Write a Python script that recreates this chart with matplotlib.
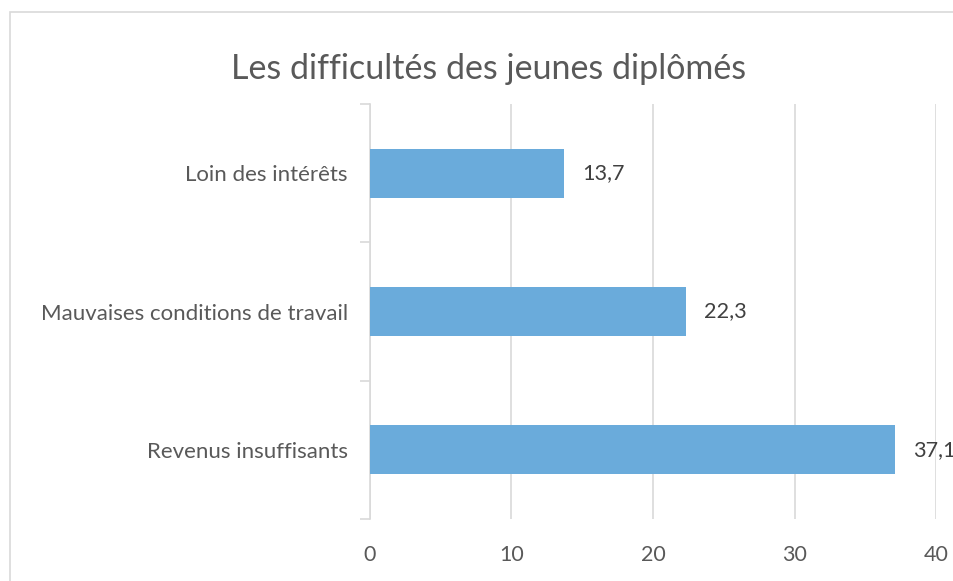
import matplotlib
matplotlib.use("Agg")
import matplotlib.pyplot as plt
from matplotlib.patches import Rectangle

categories = ["Revenus insuffisants", "Mauvaises conditions de travail", "Loin des intérêts"]
values = [37.1, 22.3, 13.7]
xticks = [0, 10, 20, 30, 40]
title = "Les difficultés des jeunes diplômés"

plt.rcParams['font.family'] = ['Lato', 'DejaVu Sans']
W, H = 954, 581
fig = plt.figure(figsize=(W/100, H/100), dpi=100)
# outer chart frame (cropped on right/bottom)
fig.patches.append(Rectangle((10/W, -0.1), 2, (H-12)/H + 0.1, transform=fig.transFigure,
                             fill=False, edgecolor="#d9d9d9", linewidth=1.2))

left, right = 370/W, 936/W
top, bottom = 1 - 104/H, 1 - 519/H
ax = fig.add_axes([left, bottom, right-left, top-bottom])

ypos = list(range(len(categories)))
ax.barh(ypos, values, height=0.355, color="#6aabdb", zorder=3)
ax.set_xlim(0, 40)
ax.set_ylim(-0.5, len(categories)-0.5)
ax.set_xticks(xticks)
ax.set_xticklabels([str(t) for t in xticks])
ax.set_yticks(ypos)
ax.set_yticklabels(categories)
ax.set_yticks([y-0.5 for y in range(len(categories)+1)], minor=True)
ax.tick_params(axis='y', which='major', length=0, pad=16, labelsize=16, labelcolor="#595959")
ax.tick_params(axis='y', which='minor', length=7, color="#d9d9d9", width=1.2)
ax.tick_params(axis='x', length=0, pad=19, labelsize=15.5, labelcolor="#595959")
ax.grid(axis='x', color="#d9d9d9", linewidth=1.2, zorder=0)
for s in ['top', 'right', 'bottom']:
    ax.spines[s].set_visible(False)
ax.spines['left'].set_color("#d9d9d9")
ax.spines['left'].set_linewidth(1.2)

for y, v in zip(ypos, values):
    ax.annotate(f"{v:.1f}".replace('.', ','), (v, y), xytext=(18, 0), textcoords='offset pixels',
                ha='left', va='center', fontsize=15.6, color="#404040", annotation_clip=False)

fig.text(489/W, 1 - 69/H, title, ha='center', va='center', fontsize=24.5, color="#595959")
fig.savefig("out.png", dpi=100)
